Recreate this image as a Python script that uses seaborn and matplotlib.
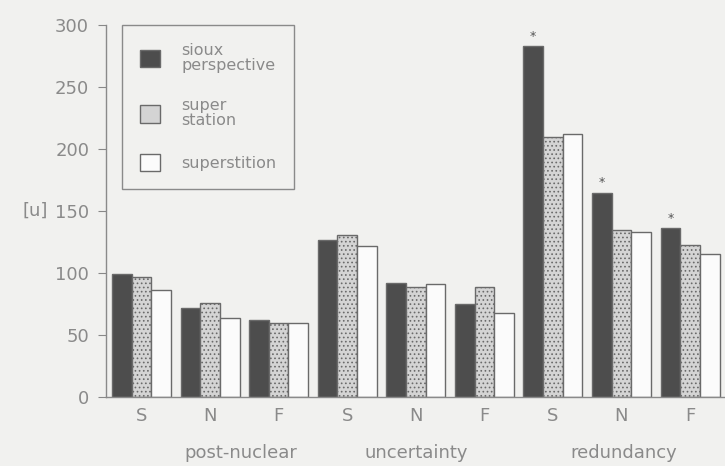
import pandas as pd
import seaborn as sns
import matplotlib.pyplot as plt

# данные
groups = ['post-nuclear', 'uncertainty', 'redundancy']
conds = ['S', 'N', 'F']
series = ['sioux\nperspective', 'super\nstation', 'superstition']
sioux = [99, 72, 62, 127, 92, 75, 283, 165, 136]
super_station = [97, 76, 60, 131, 89, 89, 210, 135, 123]
superstition = [86, 64, 60, 122, 91, 68, 212, 133, 115]
starred = [6, 7, 8]   # отмеченные звёздочкой столбцы (sioux)

keys = [f'{g} {c}' for g in groups for c in conds]
df = pd.DataFrame({
    'key': keys * 3,
    'value': sioux + super_station + superstition,
    'series': [series[0]] * 9 + [series[1]] * 9 + [series[2]] * 9,
})

sns.set_style('white')
bg = '#f1f1ef'
txt = '#8a8a8a'
plt.rcParams['font.family'] = ['DejaVu Sans']
plt.rcParams['hatch.color'] = '#a0a0a0'
plt.rcParams['hatch.linewidth'] = 0.7

fig = plt.figure(figsize=(7.25, 4.66), dpi=100, facecolor=bg)
ax = fig.add_axes([0.146, 0.148, 0.854, 0.798])
ax.set_facecolor(bg)

palette = {series[0]: '#4d4d4d', series[1]: '#d4d4d4', series[2]: '#fbfbfb'}
sns.barplot(data=df, x='key', y='value', hue='series', order=keys,
            hue_order=series, palette=palette, width=0.86, saturation=1,
            edgecolor='#6a6a6a', linewidth=1.0, ax=ax)

for bar in ax.containers[1]:
    bar.set_hatch('....')

# звёздочки над столбцами
for i in starred:
    b = ax.containers[0][i]
    ax.text(b.get_x() + b.get_width() / 2, b.get_height() + 3, '*',
            ha='center', va='bottom', fontsize=9, color='#555555')

ax.set_ylim(0, 300)
ax.set_xlim(-0.52, 8.51)
ax.set_yticks([0, 50, 100, 150, 200, 250, 300])
ax.set_xticks(range(9))
ax.set_xticklabels(conds * 3)
ax.set_xticks([i + 0.5 for i in range(-1, 9)], minor=True)
ax.tick_params(axis='x', which='major', length=0, pad=7, labelsize=13, labelcolor=txt)
ax.tick_params(axis='x', which='minor', length=8, direction='inout', color='#888888')
ax.tick_params(axis='y', length=6, direction='out', color='#888888', pad=6,
               labelsize=13, labelcolor=txt, left=True)
ax.set_xlabel('')
ax.set_ylabel('[u]', rotation=0, fontsize=13, color=txt, va='center', ha='left')
ax.yaxis.set_label_coords(-0.135, 0.5)

for s in ['top', 'right']:
    ax.spines[s].set_visible(False)
for s in ['left', 'bottom']:
    ax.spines[s].set_color('#8a8a8a')
    ax.spines[s].set_linewidth(1.0)

for x, g in zip([1.45, 4.0, 7.03], groups):
    ax.text(x, -0.15, g, transform=ax.get_xaxis_transform(), ha='center',
            va='center', fontsize=13, color=txt)

leg = ax.legend(loc='upper left', bbox_to_anchor=(0.026, 1.0), frameon=True,
                fancybox=False, edgecolor='#8a8a8a', facecolor=bg, framealpha=1,
                fontsize=11.5, handlelength=1.3, handleheight=1.3, labelspacing=1.6,
                borderpad=1.1, handletextpad=1.3, borderaxespad=0)
leg._legend_box.align = 'left'
for t in leg.get_texts():
    t.set_color(txt)
    t.set_linespacing(1.0)
leg.get_frame().set_width  # frame sized by content

plt.savefig('out.png', dpi=100, facecolor=bg)
